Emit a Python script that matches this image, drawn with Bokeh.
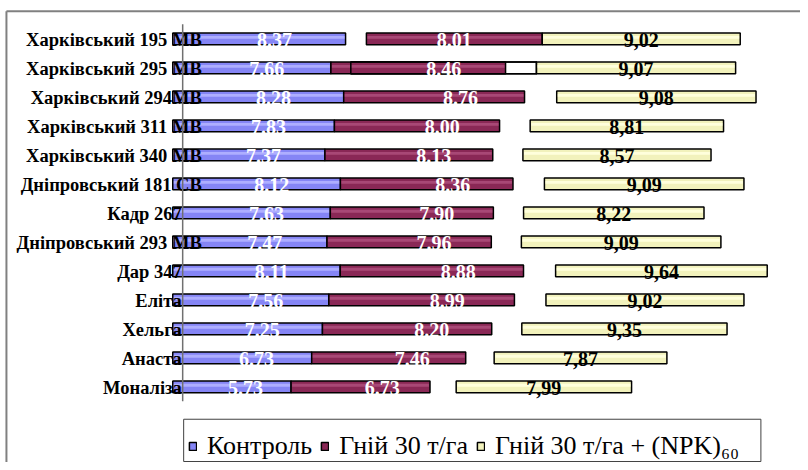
from bokeh.plotting import figure
from bokeh.models import Range1d, Legend, LegendItem
from bokeh.core.properties import value
from bokeh.embed import file_html
from bokeh.resources import INLINE

# ---------------- data ----------------
varieties = ["Харківський 195 МВ", "Харківський 295 МВ", "Харківський 294МВ",
             "Харківський 311 МВ", "Харківський 340 МВ", "Дніпровський 181 СВ",
             "Кадр 267", "Дніпровський 293 МВ", "Дар 347", "Еліта", "Хельга",
             "Анаста", "Моналіза"]
control = [8.37, 7.66, 8.28, 7.83, 7.37, 8.12, 7.63, 7.47, 8.11, 7.56, 7.25, 6.73, 5.73]
manure = [8.01, 8.46, 8.76, 8.00, 8.13, 8.36, 7.90, 7.96, 8.88, 8.99, 8.20, 7.46, 6.73]
manure_npk = [9.02, 9.07, 9.08, 8.81, 8.57, 9.09, 8.22, 9.09, 9.64, 9.02, 9.35, 7.87, 7.99]
series_names = ["Контроль", "Гній 30 т/га", "Гній 30 т/га + (NPK)₆₀"]

# ---------------- layout / style ----------------
W, H = 800, 462            # figure size
RW, RH = 808.0, 470.0      # design space the ranges are laid out in
A_ORIGIN, A_PX = 174.0, 20.85      # front chart scale
B_ORIGIN, B_PX = 184.0, 22.17      # back chart scale
ROW0, STEP = 39.0, 29.5
BAR_H = 12.0 / STEP
STRIPE_H = 3.0 / STEP

BLUE, BLUE_L = "#8585f5", "#aeaeff"
PURP, PURP_L = "#8a2856", "#a84876"
YELL, YELL_L = "#f2f2bc", "#ffffdc"
SERIF = value("Liberation Serif")

n = len(varieties)
rows = list(range(n))
stack1 = [c + m for c, m in zip(control, manure)]
stack2 = [s + k for s, k in zip(stack1, manure_npk)]

p = figure(width=W, height=H, output_backend="svg", toolbar_location=None,
           x_range=Range1d(-A_ORIGIN / A_PX, (RW - A_ORIGIN) / A_PX),
           y_range=Range1d((RH - ROW0) / STEP, -ROW0 / STEP),
           x_axis_location=None, y_axis_location=None,
           min_border=0, min_border_left=0, min_border_right=0,
           min_border_top=0, min_border_bottom=0)
p.extra_x_ranges = {"b": Range1d(-B_ORIGIN / B_PX, (RW - B_ORIGIN) / B_PX)}
p.grid.visible = False
p.outline_line_color = None
p.background_fill_color = "white"

def ax(px):   # design-space x pixel -> front-chart units
    return (px - A_ORIGIN) / A_PX

def ay(py):   # design-space y pixel -> row units
    return (py - ROW0) / STEP

# outer chart-area border (left & top)
p.segment(x0=[ax(6), ax(6)], y0=[ay(11), ay(11)], x1=[ax(6), p.x_range.end],
          y1=[p.y_range.start, ay(11)], line_color="#808080", line_width=2)

def stripe_y(r):
    return [v - 1.5 / STEP for v in r]

# back chart: purple box outline (white) for second row, under the front chart
p.hbar(y=[1], left=[control[1]], right=[stack1[1]], height=BAR_H, x_range_name="b",
       fill_color="white", line_color="black", line_width=1.5)

# front chart: control
r_blue = p.hbar(y=rows, left=0, right=control, height=BAR_H,
                fill_color=BLUE, line_color="black", line_width=1.5)
p.hbar(y=stripe_y(rows), left=0.05, right=[c - 0.05 for c in control], height=STRIPE_H,
       fill_color=BLUE_L, line_color=None)

# front chart: manure (from second row on)
fr = rows[1:]
r_purp = p.hbar(y=fr, left=[control[i] for i in fr], right=[stack1[i] for i in fr],
                height=BAR_H, fill_color=PURP, line_color="black", line_width=1.5)
p.hbar(y=stripe_y(fr), left=[control[i] + 0.05 for i in fr], right=[stack1[i] - 0.05 for i in fr],
       height=STRIPE_H, fill_color=PURP_L, line_color=None)

# back chart: manure in first row, outline in second
p.hbar(y=[0], left=[control[0]], right=[stack1[0]], height=BAR_H, x_range_name="b",
       fill_color=PURP, line_color="black", line_width=1.5)
p.hbar(y=stripe_y([0]), left=[control[0] + 0.05], right=[stack1[0] - 0.05], height=STRIPE_H,
       x_range_name="b", fill_color=PURP_L, line_color=None)
p.hbar(y=[1], left=[control[1]], right=[stack1[1]], height=BAR_H, x_range_name="b",
       fill_color=None, line_color="black", line_width=1.5)

# back chart: manure + NPK
r_yell = p.hbar(y=rows, left=stack1, right=stack2, height=BAR_H, x_range_name="b",
                fill_color=YELL, line_color="black", line_width=1.5)
p.hbar(y=stripe_y(rows), left=[s + 0.05 for s in stack1], right=[s - 0.05 for s in stack2],
       height=STRIPE_H, x_range_name="b", fill_color=YELL_L, line_color=None)

# category labels
for i, name in enumerate(varieties):
    off = 29 if name.endswith("В") else 9
    p.text(x=[0], y=[i], text=[name], text_align="right", text_baseline="middle",
           x_offset=off, y_offset=1.5, text_font=SERIF, text_font_style="bold",
           text_font_size="18.5px", text_color="black")

# axis line of back chart
p.segment(x0=[0], y0=[-0.5], x1=[0], y1=[n - 0.5], x_range_name="b",
          line_color="#707070", line_width=1.5)

# value labels (back chart positions)
lbl = dict(x_range_name="b", text_align="center", text_baseline="middle", y_offset=1,
           text_font=SERIF, text_font_style="bold", text_font_size="20px")
p.text(x=[c / 2 for c in control], y=rows, text=[f"{c:.2f}" for c in control],
       text_color="white", **lbl)
p.text(x=[c + m / 2 for c, m in zip(control, manure)], y=rows, text=[f"{m:.2f}" for m in manure],
       text_color="white", **lbl)
p.text(x=[s + k / 2 for s, k in zip(stack1, manure_npk)], y=rows,
       text=[f"{k:.2f}".replace(".", ",") for k in manure_npk], text_color="black", **lbl)

# legend frame
p.quad(left=[ax(185)], right=[ax(768)], top=[ay(426)], bottom=[ay(469)],
       fill_color="white", line_color="#404040", line_width=1)

legend = Legend(items=[LegendItem(label=series_names[0], renderers=[r_blue]),
                       LegendItem(label=series_names[1], renderers=[r_purp]),
                       LegendItem(label=series_names[2], renderers=[r_yell])],
                orientation="horizontal", location=(188, 1),
                label_text_font="'Liberation Serif'", label_text_font_size="26px",
                label_text_color="black", glyph_width=9, glyph_height=10,
                label_standoff=10, spacing=8, padding=8, margin=0,
                border_line_color=None, background_fill_alpha=0.0)
p.add_layout(legend, "center")

open("out.html", "w").write(file_html(p, INLINE))
